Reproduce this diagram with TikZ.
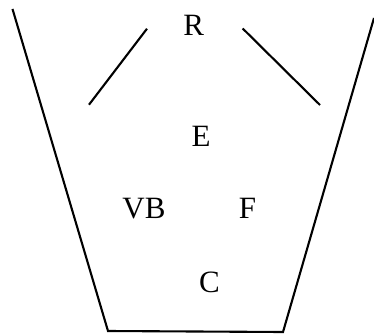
\documentclass[tikz,border=0pt]{standalone}
\usepackage{fontspec}
\setmainfont{Liberation Serif}
\begin{document}
\begin{tikzpicture}[x=1pt,y=-1pt,lbl/.style={font=\fontsize{31}{35}\selectfont,inner sep=0pt,anchor=center},ln/.style={draw=black,line width=2.1pt}]
\useasboundingbox (0,0) rectangle (374,334);
\fill[white] (0,0) rectangle (374,334);
\node[lbl] (r) at (193.7,25.5) {R};
\node[lbl] (e) at (201,136) {E};
\node[lbl] (vb) at (144,208.5) {VB};
\node[lbl] (f) at (247.5,208.5) {F};
\node[lbl] (c) at (209.5,282) {C};
\coordinate (a1) at (12.5,9);
\coordinate (a2) at (108,331);
\coordinate (a3) at (283,332);
\coordinate (a4) at (374,18);
\draw[ln] (a1) -- (a2) -- (a3) -- (a4);
\coordinate (b1) at (147,28.7);
\coordinate (b2) at (89,104.7);
\draw[ln] (b1) -- (b2);
\coordinate (c1) at (242.7,28.5);
\coordinate (c2) at (320,105);
\draw[ln] (c1) -- (c2);
\end{tikzpicture}
\end{document}
